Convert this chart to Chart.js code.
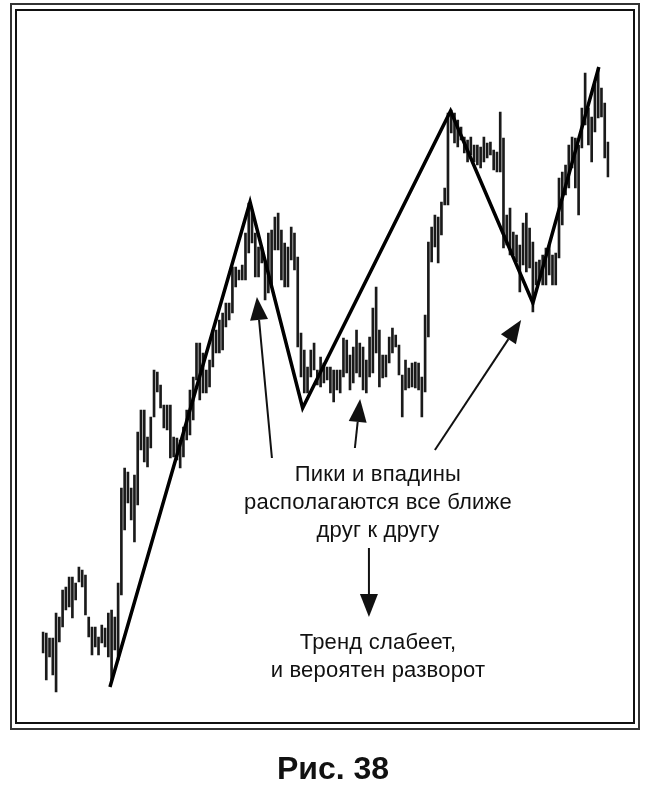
<!DOCTYPE html>
<html>
<head>
<meta charset="utf-8">
<script src="https://cdn.jsdelivr.net/npm/chart.js"></script>
<style>
  html, body { margin: 0; padding: 0; background: #fff; }
  #page { position: relative; width: 650px; height: 798px; overflow: hidden; }
  .frame { position: absolute; box-sizing: border-box; }
  #outer { left: 10px; top: 3px; width: 630px; height: 727px; border: 2px solid #333; }
  #inner { left: 15px; top: 9px; width: 620px; height: 715px; border: 2px solid #111; }
  #chart { position: absolute; left: 0; top: 0; }
  .note { position: absolute; width: 400px; text-align: center; color: #111;
          font-family: "Liberation Sans", Arial, sans-serif; font-size: 22px; letter-spacing: 0.2px; line-height: 28px; }
  #caption { position: absolute; left: 0; width: 666px; top: 750px; text-align: center;
             font-family: "Liberation Sans", Arial, sans-serif; font-weight: bold; font-size: 32px; color: #111; }
</style>
</head>
<body>
<div id="page">
  <div class="frame" id="outer"></div>
  <div class="frame" id="inner"></div>
  <canvas id="chart" width="650" height="798"></canvas>
  <div class="note" id="note1" style="left:178px; top:460px;">Пики и впадины<br>располагаются все ближе<br>друг к другу</div>
  <div class="note" id="note2" style="left:178px; top:628px;">Тренд слабеет,<br>и вероятен разворот</div>
  <div id="caption">Рис. 38</div>
</div>
<script>
/* ======== DATA ======== */
// bar highs and lows, left to right
const highs = [
  98, 97, 92, 92, 117, 113, 140, 143, 153, 153, 147, 163, 160, 155, 113, 103, 103, 93, 105, 102,
  117, 120, 113, 147, 242, 262, 258, 242, 255, 298, 320, 320, 293, 313, 360, 358, 345, 325, 325, 325,
  293, 292, 290, 303, 320, 340, 353, 387, 387, 377, 360, 370, 400, 400, 410, 417, 427, 427, 463, 463,
  460, 465, 497, 527, 520, 497, 483, 483, 470, 497, 500, 513, 517, 500, 487, 483, 503, 497, 473, 397,
  380, 363, 380, 387, 360, 373, 367, 363, 363, 360, 360, 360, 392, 390, 375, 383, 400, 387, 383, 370,
  393, 422, 443, 400, 375, 375, 393, 402, 395, 385, 355, 370, 362, 367, 368, 367, 353, 415, 488, 503,
  515, 513, 528, 542, 617, 620, 617, 610, 603, 593, 590, 593, 585, 585, 583, 593, 587, 588, 580, 578,
  618, 592, 515, 522, 498, 495, 485, 507, 517, 502, 488, 468, 470, 475, 482, 485, 475, 477, 552, 558,
  565, 585, 593, 592, 585, 622, 657, 622, 613, 648, 662, 642, 627, 588
];
const lows = [
  77, 50, 73, 55, 38, 88, 103, 120, 123, 112, 130, 148, 143, 115, 93, 75, 83, 75, 87, 83,
  73, 48, 80, 70, 135, 200, 227, 210, 188, 225, 280, 268, 263, 282, 313, 338, 322, 302, 300, 272,
  273, 270, 262, 273, 290, 295, 310, 350, 330, 337, 337, 343, 363, 377, 377, 380, 403, 410, 417, 443,
  450, 450, 450, 477, 487, 453, 453, 467, 430, 437, 443, 480, 480, 450, 443, 443, 470, 460, 383, 353,
  337, 337, 353, 360, 345, 343, 347, 350, 337, 328, 340, 337, 353, 357, 340, 347, 357, 353, 340, 337,
  353, 357, 377, 343, 352, 353, 367, 377, 383, 355, 313, 340, 342, 343, 342, 340, 313, 338, 393, 468,
  483, 467, 495, 525, 525, 597, 587, 583, 590, 577, 568, 575, 568, 565, 562, 568, 572, 575, 560, 558,
  558, 482, 485, 475, 475, 468, 438, 465, 458, 462, 418, 445, 452, 445, 445, 455, 445, 445, 472, 505,
  535, 542, 562, 542, 515, 582, 605, 585, 568, 598, 612, 613, 572, 553
];
// zigzag through the swing highs and lows (bar position, price)
const swingPos = [20.5, 63.4, 79.5, 124.8, 150.0, 170.2];
const swingPrice = [43, 528, 322, 619, 427, 663];

/* ======== ANNOTATION ARROWS (data units) ======== */
const arrows = [
  { from: [70.1, 272], to: [65.5, 433] },
  { from: [95.5, 282], to: [97.1, 331] },
  { from: [120.0, 280], to: [146.4, 410] },
  { from: [99.8, 182], to: [99.8, 113] }
];

const arrowPlugin = {
  id: 'arrows',
  afterDatasetsDraw(chart) {
    const ctx = chart.ctx;
    const xs = chart.scales.x, ys = chart.scales.y;
    ctx.save();
    ctx.strokeStyle = '#111';
    ctx.fillStyle = '#111';
    ctx.lineWidth = 2;
    arrows.forEach(a => {
      const x1 = xs.getPixelForValue(a.from[0]), y1 = ys.getPixelForValue(a.from[1]);
      const x2 = xs.getPixelForValue(a.to[0]), y2 = ys.getPixelForValue(a.to[1]);
      const ang = Math.atan2(y2 - y1, x2 - x1);
      const headLen = 23, headW = 9;
      const bx = x2 - headLen * Math.cos(ang), by = y2 - headLen * Math.sin(ang);
      ctx.beginPath();
      ctx.moveTo(x1, y1);
      ctx.lineTo(bx, by);
      ctx.stroke();
      ctx.beginPath();
      ctx.moveTo(x2, y2);
      ctx.lineTo(bx + headW * Math.sin(ang), by - headW * Math.cos(ang));
      ctx.lineTo(bx - headW * Math.sin(ang), by + headW * Math.cos(ang));
      ctx.closePath();
      ctx.fill();
    });
    ctx.restore();
  }
};

/* ======== CHART ======== */
const ctx = document.getElementById('chart').getContext('2d');
const chart = new Chart(ctx, {
  type: 'bar',
  data: {
    datasets: [{
      type: 'line',
      data: swingPos.map((p, i) => ({ x: p, y: swingPrice[i] })),
      borderColor: '#000',
      borderWidth: 3.5,
      pointRadius: 0,
      tension: 0,
      borderJoinStyle: 'miter',
      fill: false,
      order: 0
    }, {
      data: highs.map((h, i) => ({ x: i, y: [lows[i], h] })),
      backgroundColor: '#1a1a1a',
      borderWidth: 0,
      barThickness: 2,
      grouped: false,
      order: 1
    }]
  },
  options: {
    responsive: false,
    animation: false,
    devicePixelRatio: 1,
    layout: { padding: { left: 41.37, right: 40.37, top: 30, bottom: 88 } },
    scales: {
      x: { type: 'linear', offset: false, min: -0.5, max: 173.5, display: false },
      y: { type: 'linear', min: 20, max: 700, display: false }
    },
    plugins: {
      legend: { display: false },
      tooltip: { enabled: false }
    }
  },
  plugins: [arrowPlugin]
});
</script>
</body>
</html>
